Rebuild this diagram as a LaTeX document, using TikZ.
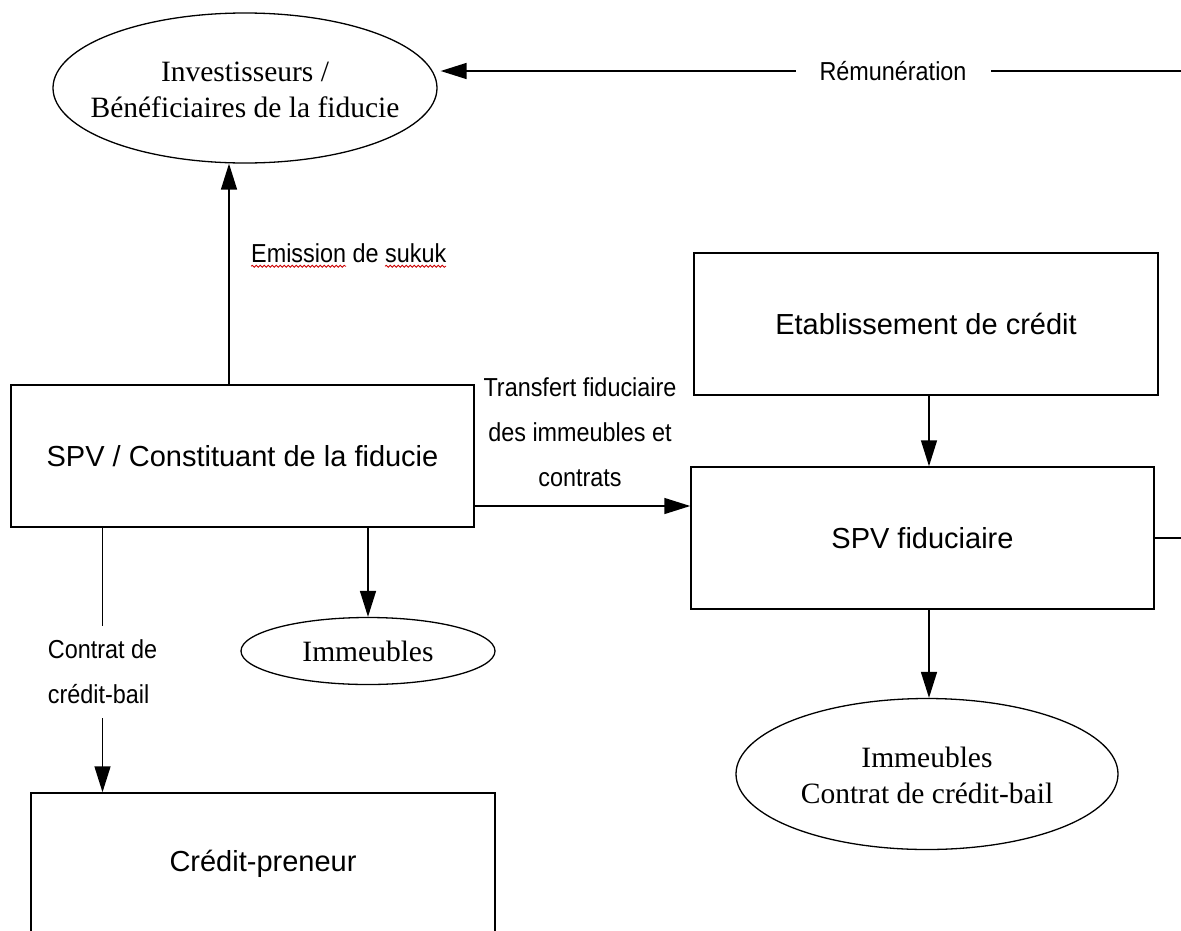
\documentclass[tikz,border=0pt]{standalone}
\usepackage{fontspec}
\setmainfont{Liberation Serif}
\newfontfamily\boxfont{Liberation Sans}
\newfontfamily\lblfont[FakeStretch=0.9]{Liberation Sans}
\usetikzlibrary{shapes.geometric,arrows.meta,decorations.pathmorphing,calc}
\begin{document}
\begin{tikzpicture}[x=1pt,y=-1pt,
  every node/.style={inner sep=0pt},
  box/.style={draw, line width=1.5pt, minimum width=463pt, minimum height=142pt, font=\boxfont\fontsize{29}{35}\selectfont},
  ell/.style={draw, ellipse, line width=1.3pt},
  ser/.style={font=\fontsize{29.5}{36}\selectfont, align=center},
  lbl/.style={font=\lblfont\fontsize{26}{45}\selectfont},
  arr/.style={line width=1.5pt, -{Triangle[length=26pt,width=16pt]}},
  conn/.style={line width=1.5pt},
  squig/.style={draw=red!80!black, line width=0.8pt, decorate, decoration={snake, amplitude=1pt, segment length=4pt}}
]
\useasboundingbox (0,0) rectangle (1181,930);
% nodes
\node[ell, minimum width=384pt, minimum height=150pt] (inv) at (245,88) {};
\node[ser] (invt) at (245,90) {Investisseurs /\\Bénéficiaires de la fiducie};
\node[box] (spv) at (242.5,456) {SPV / Constituant de la fiducie};
\node[box, minimum width=464pt] (etab) at (926,324) {Etablissement de crédit};
\node[box] (spvf) at (922.5,538) {SPV fiduciaire};
\node[box, minimum width=464pt] (cp) at (263,864) {Crédit-preneur};
\node[ell, minimum width=254pt, minimum height=67pt] (imm) at (368,651) {};
\node[ser] (immt) at (368,651) {Immeubles};
\node[ell, minimum width=382pt, minimum height=151pt] (ell2) at (927,774) {};
\node[ser] (ell2t) at (927,775) {Immeubles\\Contrat de crédit-bail};
% labels
\node[lbl, anchor=west] (emis) at (251,253) {Emission de sukuk};
\node[lbl, align=center] (trans) at (580,432) {Transfert fiduciaire\\des immeubles et\\contrats};
\coordinate (remR) at (1181,71);
\coordinate (rr) at (1181,538);
% connectors
\draw[arr] ([xshift=-13.5pt]spv.north) -- ([xshift=-13.5pt]spv.north |- inv.south);
\draw[arr] (remR) -- ([xshift=3pt]inv.east |- remR)
  node[pos=0.389, lbl, fill=white, minimum width=195pt, minimum height=30pt] (rem) {Rémunération};
\draw[arr] ([yshift=-50pt]spv.east) -- ([yshift=-50pt]spv.east -| spvf.west);
\draw[arr] ([xshift=3pt]etab.south) -- ([xshift=3pt]etab.south |- spvf.north);
\draw[conn] (spvf.east) -- (rr);
\draw[arr] ([xshift=6.5pt]spvf.south) -- ([xshift=6.5pt]spvf.south |- ell2.north);
\draw[arr] (spv.south -| imm.north) -- (imm.north);
\draw[arr] ([xshift=-140pt]spv.south) -- ([xshift=-140pt]spv.south |- cp.north)
  node[pos=0.545, lbl, fill=white, align=left, minimum height=92pt] (ctr) {Contrat de\\crédit-bail};
% spell-check underlines
\draw[squig] ([yshift=-4pt]emis.base west) -- ++(95,0);
\draw[squig] ([xshift=134pt,yshift=-4pt]emis.base west) -- ++(61,0);
\end{tikzpicture}
\end{document}
